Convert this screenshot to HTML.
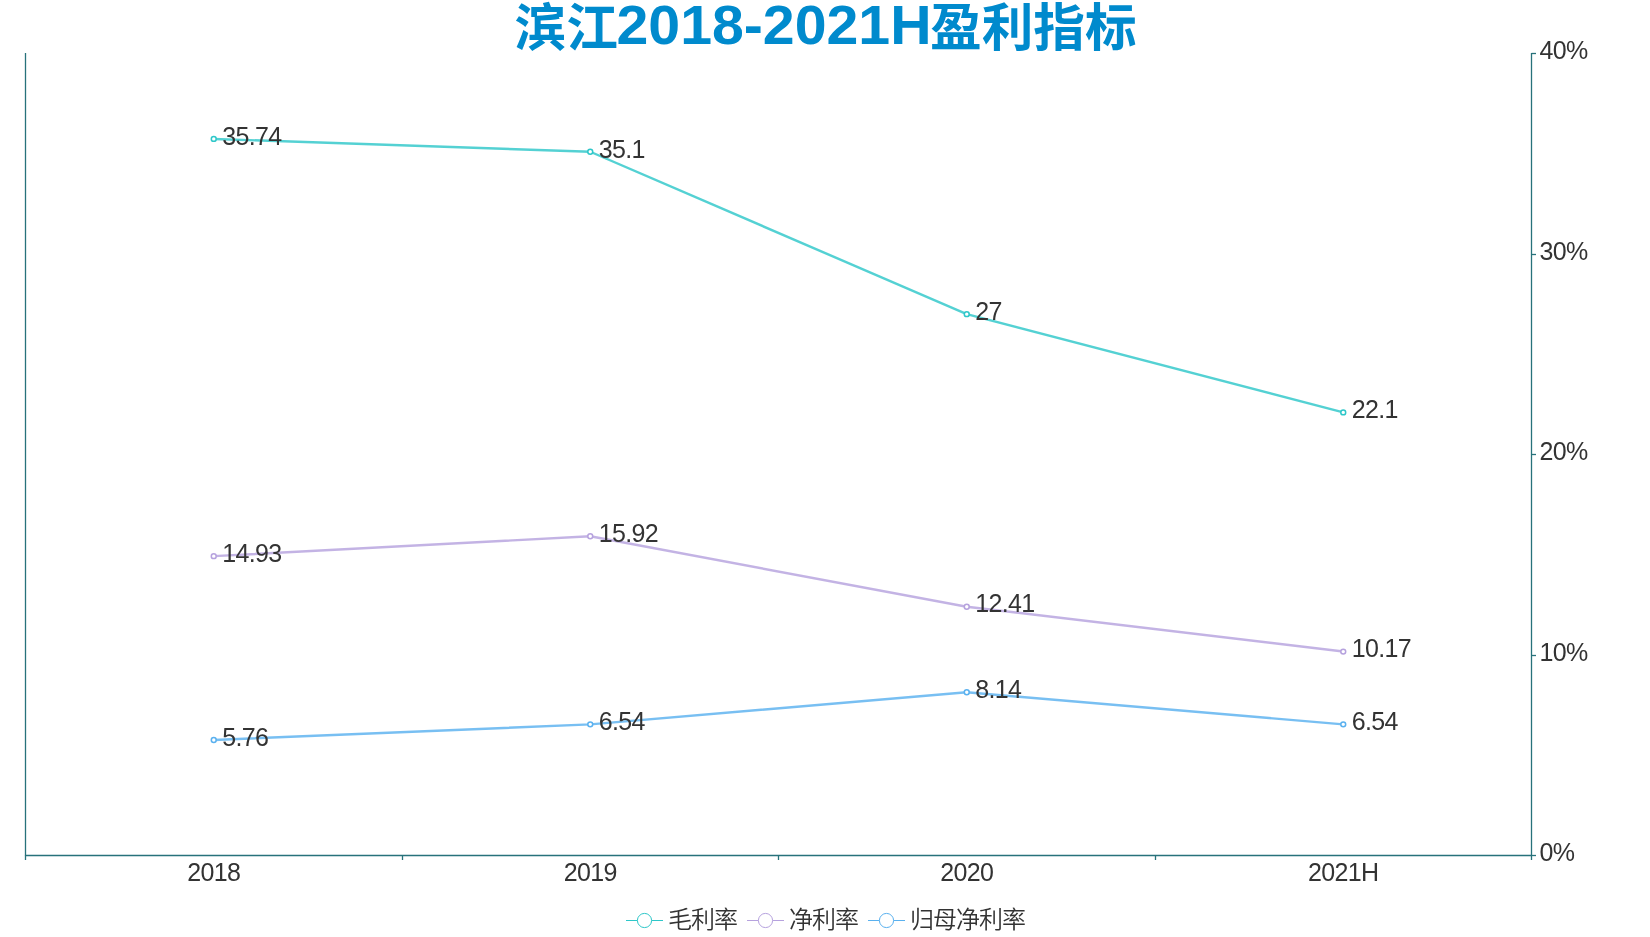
<!DOCTYPE html>
<html lang="zh-CN">
<head>
<meta charset="utf-8">
<title>滨江2018-2021H盈利指标</title>
<style>
html,body{margin:0;padding:0;background:#fff;}
body{width:1650px;height:937px;overflow:hidden;}
svg{display:block;will-change:transform;}
.lb{font-family:"Liberation Sans","Noto Sans CJK SC",sans-serif;font-size:25px;letter-spacing:-0.65px;fill:#333;}
.lg{font-family:"Liberation Sans","Noto Sans CJK SC",sans-serif;font-size:24px;font-weight:350;letter-spacing:-1px;fill:#333;}
.tt{font-family:"Liberation Sans","Noto Sans CJK SC",sans-serif;font-weight:bold;fill:#008acd;}
</style>
</head>
<body>
<svg width="1650" height="937" viewBox="0 0 1650 937">
<rect width="1650" height="937" fill="#fff"/>
<text class="tt"><tspan x="514.5" y="46" font-size="51.7">滨江</tspan><tspan x="616.5" y="44" font-size="56.3" textLength="315" lengthAdjust="spacingAndGlyphs">2018-2021H</tspan><tspan x="930" y="46" font-size="51.7">盈利指标</tspan></text>
<g stroke="#27727b" stroke-width="1.3" fill="none">
<path d="M25.5 53.0 V856.0"/>
<path d="M1531.5 53.0 V856.0"/>
<path d="M25.0 855.5 H1532.0"/>
<path d="M25.5 855.5 V860.0"/>
<path d="M402.5 855.5 V860.0"/>
<path d="M778.5 855.5 V860.0"/>
<path d="M1155.5 855.5 V860.0"/>
<path d="M1531.5 855.5 V860.0"/>
<path d="M1531.5 855.5 H1536.0"/>
<path d="M1531.5 655.5 H1536.0"/>
<path d="M1531.5 454.5 H1536.0"/>
<path d="M1531.5 254.5 H1536.0"/>
<path d="M1531.5 53.5 H1536.0"/>
</g>
<polyline points="213.75,138.91 590.25,151.75 966.75,314.15 1343.25,412.39" fill="none" stroke="#2ec7c9" stroke-width="2.45" stroke-opacity="0.82" stroke-linejoin="round"/>
<polyline points="213.75,556.15 590.25,536.30 966.75,606.68 1343.25,651.59" fill="none" stroke="#b6a2de" stroke-width="2.45" stroke-opacity="0.82" stroke-linejoin="round"/>
<polyline points="213.75,740.01 590.25,724.37 966.75,692.29 1343.25,724.37" fill="none" stroke="#5ab1ef" stroke-width="2.45" stroke-opacity="0.82" stroke-linejoin="round"/>
<circle cx="213.75" cy="138.91" r="2.45" fill="#fff" stroke="#2ec7c9" stroke-width="1.5"/>
<circle cx="590.25" cy="151.75" r="2.45" fill="#fff" stroke="#2ec7c9" stroke-width="1.5"/>
<circle cx="966.75" cy="314.15" r="2.45" fill="#fff" stroke="#2ec7c9" stroke-width="1.5"/>
<circle cx="1343.25" cy="412.39" r="2.45" fill="#fff" stroke="#2ec7c9" stroke-width="1.5"/>
<circle cx="213.75" cy="556.15" r="2.45" fill="#fff" stroke="#b6a2de" stroke-width="1.5"/>
<circle cx="590.25" cy="536.30" r="2.45" fill="#fff" stroke="#b6a2de" stroke-width="1.5"/>
<circle cx="966.75" cy="606.68" r="2.45" fill="#fff" stroke="#b6a2de" stroke-width="1.5"/>
<circle cx="1343.25" cy="651.59" r="2.45" fill="#fff" stroke="#b6a2de" stroke-width="1.5"/>
<circle cx="213.75" cy="740.01" r="2.45" fill="#fff" stroke="#5ab1ef" stroke-width="1.5"/>
<circle cx="590.25" cy="724.37" r="2.45" fill="#fff" stroke="#5ab1ef" stroke-width="1.5"/>
<circle cx="966.75" cy="692.29" r="2.45" fill="#fff" stroke="#5ab1ef" stroke-width="1.5"/>
<circle cx="1343.25" cy="724.37" r="2.45" fill="#fff" stroke="#5ab1ef" stroke-width="1.5"/>
<g class="lb">
<text x="222.25" y="144.71">35.74</text>
<text x="598.75" y="157.55">35.1</text>
<text x="975.25" y="319.95">27</text>
<text x="1351.75" y="418.19">22.1</text>
<text x="222.25" y="561.95">14.93</text>
<text x="598.75" y="542.10">15.92</text>
<text x="975.25" y="612.48">12.41</text>
<text x="1351.75" y="657.39">10.17</text>
<text x="222.25" y="745.81">5.76</text>
<text x="598.75" y="730.17">6.54</text>
<text x="975.25" y="698.09">8.14</text>
<text x="1351.75" y="730.17">6.54</text>
<text x="213.75" y="881" text-anchor="middle">2018</text>
<text x="590.25" y="881" text-anchor="middle">2019</text>
<text x="966.75" y="881" text-anchor="middle">2020</text>
<text x="1343.25" y="881" text-anchor="middle">2021H</text>
<text x="1539.5" y="861.00">0%</text>
<text x="1539.5" y="660.50">10%</text>
<text x="1539.5" y="460.00">20%</text>
<text x="1539.5" y="259.50">30%</text>
<text x="1539.5" y="59.00">40%</text>
</g>
<path d="M626.0 920.5 H663.0" stroke="#2ec7c9" stroke-width="1" fill="none"/>
<circle cx="644.5" cy="920.5" r="7.1" fill="#fff" stroke="#2ec7c9" stroke-width="1"/>
<text class="lg" x="668.0" y="927.8">毛利率</text>
<path d="M747.0 920.5 H784.0" stroke="#b6a2de" stroke-width="1" fill="none"/>
<circle cx="765.5" cy="920.5" r="7.1" fill="#fff" stroke="#b6a2de" stroke-width="1"/>
<text class="lg" x="789.0" y="927.8">净利率</text>
<path d="M868.0 920.5 H905.0" stroke="#5ab1ef" stroke-width="1" fill="none"/>
<circle cx="886.5" cy="920.5" r="7.1" fill="#fff" stroke="#5ab1ef" stroke-width="1"/>
<text class="lg" x="910.0" y="927.8">归母净利率</text>
</svg>
</body>
</html>
